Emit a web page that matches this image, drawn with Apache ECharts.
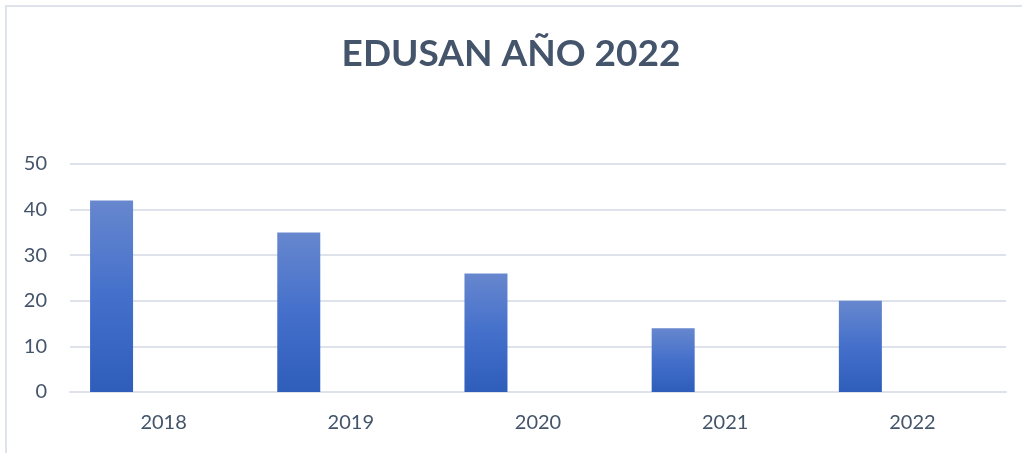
<!DOCTYPE html>
<html>
<head>
<meta charset="utf-8">
<script src="https://cdn.jsdelivr.net/npm/echarts@6/dist/echarts.min.js"></script>
<style>
  html, body { margin: 0; padding: 0; background: #fff; }
  #chartExample { width: 1022px; height: 453px; }
</style>
</head>
<body>
<div id="chartExample"></div>
<script>
// datos del gráfico
var years = ['2018', '2019', '2020', '2021', '2022'];
var alumnos = [42, 35, 26, 14, 20];
var vacia = [null, null, null, null, null];
var yTicks = [0, 10, 20, 30, 40, 50];

var myChart = echarts.init(document.getElementById('chartExample'));
var txtColor = '#44546A';
var gridColor = '#DEE2EA';

var option = {
    backgroundColor: '#fff',
    textStyle: { fontFamily: 'Lato' },
    title: {
        text: 'EDUSAN AÑO 2022',
        left: 'center',
        top: 31,
        textStyle: { fontFamily: 'Lato', fontSize: 37, fontWeight: 'bold', color: txtColor }
    },
    graphic: [{
        type: 'rect',
        shape: { x: 6, y: 6, width: 1100, height: 500 },
        style: { fill: 'none', stroke: '#DEE2EA', lineWidth: 2 }
    }],
    grid: { left: 70, right: 16, top: 164, bottom: 61 },
    xAxis: {
        type: 'category',
        data: years,
        axisTick: { show: false },
        axisLine: { lineStyle: { color: gridColor, width: 2 } },
        axisLabel: { color: txtColor, fontSize: 20, margin: 21 }
    },
    yAxis: {
        type: 'value',
        min: yTicks[0],
        max: yTicks[yTicks.length - 1],
        interval: 10,
        axisLine: { show: false },
        axisTick: { show: false },
        splitLine: { lineStyle: { color: gridColor, width: 2 } },
        axisLabel: { color: txtColor, fontSize: 20, margin: 23 }
    },
    series: [{
        name: 'Alumnos',
        type: 'bar',
        data: alumnos,
        barWidth: 43,
        barGap: '142%',
        itemStyle: {
            color: new echarts.graphic.LinearGradient(0, 0, 0, 1, [
                { offset: 0, color: '#6787CE' },
                { offset: 0.5, color: '#4470CB' },
                { offset: 1, color: '#2E5DBA' }
            ])
        }
    }, {
        name: 'vacia',
        type: 'bar',
        data: vacia,
        barWidth: 43
    }]
};
myChart.setOption(option);
</script>
</body>
</html>
